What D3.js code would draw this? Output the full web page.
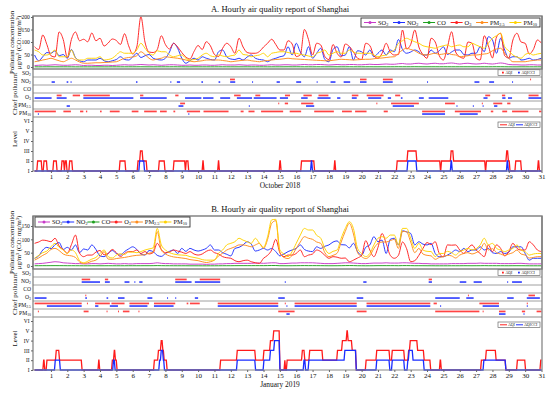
<!DOCTYPE html>
<html>
<head>
<meta charset="utf-8">
<script src="https://cdn.jsdelivr.net/npm/d3@7"></script>
<style>
  body { margin: 0; background: #fff; }
  text { font-family: "Liberation Serif", "Times New Roman", serif; fill: #111; }
</style>
</head>
<body>
<svg id="chart" width="550" height="393"></svg>
<script>
// ---- data (one sample every 6 hours) ----
var pollutants = ["SO2", "NO2", "CO", "O3", "PM2.5", "PM10"];
var pollutantParts = [["SO", "2"], ["NO", "2"], ["CO", ""], ["O", "3"], ["PM", "2.5"], ["PM", "10"]];
var dayTicks = [1, 2, 3, 4, 5, 6, 7, 8, 9, 10, 11, 12, 13, 14, 15, 16, 17, 18, 19, 20, 21, 22, 23, 24, 25, 26, 27, 28, 29, 30, 31];
var levelLabels = ["I", "II", "III", "IV", "V", "VI"];
var sampleHours = 6;

var octSO2 = [6,7,8,7, 8,9,8,7, 7,8,9,8, 6,7,7,6, 6,7,7,6, 7,8,9,8, 8,9,10,9, 8,9,8,7, 8,9,9,8, 7,7,8,7,
  7,8,8,7, 7,8,9,8, 8,8,9,8, 7,8,8,7, 7,8,9,8, 8,9,9,8, 8,9,10,9, 9,10,10,9, 8,9,10,9, 9,10,10,9,
  9,10,11,10, 10,11,12,11, 11,13,14,12, 12,14,15,13, 12,14,15,13, 13,15,16,14, 12,14,15,13, 12,13,15,13,
  12,14,16,14, 10,9,9,8, 8,9,9,8, 8];
var octNO2 = [48,25,41,58, 55,65,45,50, 35,70,38,25, 21,28,28,28, 35,25,21,25, 30,41,30,28, 40,55,38,45,
  50,35,30,28, 35,60,95,75, 35,15,25,35, 28,41,35,30, 28,61,68,41, 32,30,35,28, 40,48,35,30, 28,21,30,35,
  41,45,81,48, 95,60,41,81, 35,55,75,30, 21,70,81,45, 48,81,28,65, 61,48,68,41, 55,68,48,68, 61,110,70,55,
  60,68,61,48, 48,68,55,65, 81,50,60,68, 68,50,48,55, 55,81,61,121, 108,55,115,68, 35,41,41,28, 30,35,28,30, 35];
var octCO = [0.7,0.6,0.7,0.8, 0.8,0.7,0.7,0.8, 0.7,0.7,0.6,0.6, 0.6,0.6,0.6,0.6, 0.6,0.6,0.6,0.7, 0.7,0.7,0.7,0.8,
  0.8,0.8,0.9,0.8, 0.7,0.7,0.7,0.8, 0.8,0.8,0.9,0.8, 0.7,0.6,0.6,0.7, 0.7,0.7,0.7,0.7, 0.7,0.8,0.8,0.7,
  0.7,0.7,0.7,0.7, 0.7,0.7,0.7,0.7, 0.7,0.6,0.7,0.7, 0.7,0.8,0.9,0.8, 0.9,0.8,0.7,0.8, 0.7,0.8,0.8,0.7,
  0.7,0.8,0.8,0.8, 0.8,0.9,0.8,0.8, 0.8,0.8,0.9,0.8, 0.8,0.9,0.8,0.9, 0.9,1.1,1.0,0.9, 1.0,1.1,1.0,0.9,
  0.9,1.0,1.0,0.9, 1.0,1.0,0.9,0.9, 0.9,0.9,0.9,0.9, 0.9,1.0,1.0,0.9, 1.0,1.1,1.1,0.9, 0.7,0.6,0.6,0.7,
  0.7,0.7,0.7,0.7, 0.7];
var octO3 = [81,70,128,90, 45,40,140,110, 38,110,140,105, 111,101,136,105, 115,84,96,112, 106,90,133,85,
  52,80,201,100, 60,58,70,125, 90,72,95,80, 58,40,32,62, 86,70,101,85, 50,42,75,95, 81,55,115,80,
  58,55,55,62, 80,95,111,90, 68,68,105,92, 42,48,150,110, 48,95,88,42, 30,90,55,40, 92,82,60,35,
  30,95,86,45, 35,55,95,60, 48,50,148,72, 90,148,80,50, 35,115,100,45, 28,80,141,60, 41,35,100,95,
  35,28,125,85, 36,120,135,45, 36,108,135,100, 95,52,70,108, 95];
var octPM25 = [21,24,28,31, 35,30,25,21, 28,35,28,20, 15,15,16,17, 17,18,19,20, 21,28,35,38, 40,45,61,50,
  35,28,32,35, 41,39,37,35, 32,28,24,21, 23,25,28,28, 28,28,26,24, 21,23,25,27, 28,25,23,21, 24,26,28,30,
  31,33,35,33, 32,31,30,29, 28,27,26,25, 25,27,29,31, 30,29,28,29, 30,31,31,33, 35,36,38,40, 41,55,68,75,
  70,65,55,50, 48,52,55,50, 52,55,50,48, 41,43,45,48, 48,50,52,55, 65,72,75,55, 35,21,21,21, 21,24,26,28, 28];
var octPM10 = [68,61,48,48, 55,68,41,41, 41,68,35,28, 28,35,35,35, 41,28,30,35, 48,61,55,55, 55,68,95,75,
  55,48,65,61, 61,48,41,45, 48,35,28,30, 35,48,55,45, 41,48,44,41, 45,48,68,50, 48,41,45,48, 55,41,55,58,
  61,61,58,55, 55,50,48,44, 41,55,60,68, 48,55,61,55, 55,68,60,55, 55,55,55,48, 41,45,48,60, 68,95,105,115,
  108,101,95,85, 81,78,75,81, 85,88,81,85, 88,81,81,95, 88,81,75,95, 115,125,135,81, 65,48,40,35, 50,55,48,52, 55];

var janSO2 = [8,9,10,12, 14,16,15,12, 11,10,9,9, 8,8,9,9, 8,9,10,9, 8,8,9,8, 8,9,9,9, 9,10,12,10, 9,9,8,8,
  8,8,7,7, 7,7,6,7, 7,8,8,9, 9,10,10,10, 10,10,11,11, 10,11,12,12, 9,9,10,11, 11,12,12,12, 12,11,10,9,
  9,9,10,11, 12,12,11,10, 9,9,10,11, 11,11,12,11, 11,11,12,12, 11,10,10,9, 9,8,8,8, 8,8,9,9, 9,9,10,10,
  10,11,10,10, 10,10,9,9, 9,9,10,10, 9,8,8,8, 8];
var janNO2 = [29,38,60,70, 65,80,88,62, 70,60,79,50, 64,60,79,62, 38,35,47,58, 47,41,54,64, 72,62,45,41,
  58,54,40,36, 47,55,60,47, 66,55,66,60, 56,60,66,79, 60,60,50,44, 38,66,70,79, 91,82,56,60, 66,60,66,54,
  38,45,54,60, 66,79,62,56, 54,72,66,74, 79,90,94,80, 79,68,85,54, 40,70,79,110, 91,97,47,100, 104,79,132,128,
  122,79,91,82, 79,85,47,35, 35,41,50,60, 54,66,54,60, 60,72,60,66, 50,47,54,47, 52,72,72,72, 47,22,29,29, 29];
var janCO = [1.0,1.1,1.2,1.2, 1.3,1.4,1.3,1.2, 1.1,1.1,1.0,0.9, 0.8,0.8,0.9,0.9, 0.9,0.9,1.0,0.9, 0.9,0.9,0.9,1.0,
  1.0,1.0,1.0,1.1, 1.1,1.2,1.5,1.2, 1.0,1.0,0.9,0.9, 0.9,0.9,0.8,0.8, 0.8,0.7,0.7,0.8, 0.8,0.9,1.0,1.1,
  1.1,1.2,1.3,1.3, 1.3,1.3,1.4,1.4, 1.3,1.5,1.8,1.8, 1.0,0.9,0.9,1.0, 1.2,1.4,1.5,1.4, 1.4,1.3,1.2,1.0,
  0.9,0.9,1.0,1.2, 1.5,1.7,1.5,1.0, 0.9,0.8,0.9,1.1, 1.3,1.3,1.3,1.3, 1.3,1.1,1.5,1.5, 1.3,1.0,1.1,1.0,
  0.9,0.9,0.8,0.8, 0.8,0.8,0.9,0.9, 0.9,1.0,1.0,0.9, 1.0,1.1,1.3,1.1, 1.1,1.0,1.0,0.9, 0.9,1.0,1.1,1.0,
  0.9,0.8,0.8,0.8, 0.8];
var janO3 = [85,90,97,95, 91,104,75,62, 48,80,116,48, 35,41,41,52, 58,42,47,62, 50,35,47,54, 54,60,47,54,
  45,50,85,62, 50,52,60,56, 52,47,54,45, 41,45,55,60, 50,45,35,31, 29,20,16,20, 22,16,12,10, 29,40,60,100,
  50,35,41,41, 47,60,35,41, 45,60,54,40, 29,35,33,29, 30,16,22,30, 40,95,60,35, 70,122,85,40, 29,40,90,65,
  16,20,40,66, 88,80,91,47, 35,79,78,79, 60,47,66,79, 60,47,35,79, 54,79,66,38, 54,85,66,60, 60,91,79,60, 54];
var janPM25 = [22,30,40,48, 62,66,58,45, 40,38,32,15, 10,12,18,22, 35,54,26,25, 28,30,32,35, 38,40,41,43,
  48,52,129,60, 45,38,34,32, 30,28,24,22, 20,16,13,16, 22,38,48,60, 66,72,79,79, 76,72,79,85, 66,100,160,170,
  50,32,28,40, 66,90,110,104, 100,90,85,50, 35,40,48,90, 130,160,120,50, 35,28,38,66, 85,90,90,95, 100,66,130,128,
  90,50,66,45, 40,38,25,32, 35,40,38,30, 41,47,50,45, 50,60,85,60, 65,50,45,40, 45,50,60,45, 41,30,32,35, 35];
var janPM10 = [29,40,50,56, 72,85,70,60, 47,60,50,20, 12,18,26,32, 47,60,35,30, 41,46,43,52, 52,50,54,60,
  64,68,141,79, 60,50,45,42, 41,40,35,32, 29,24,22,22, 22,48,60,79, 85,91,104,97, 91,85,104,85, 70,110,173,175,
  60,45,35,54, 85,116,141,135, 135,115,104,66, 47,55,60,104, 141,166,140,66, 47,35,47,79, 104,110,104,116,
  116,79,141,141, 104,66,85,60, 55,54,35,47, 47,55,50,41, 54,60,66,60, 65,79,104,79, 85,66,60,54, 60,66,79,60,
  54,41,45,47, 47];

// chief pollutant, [pollutant, start day, end day]
var octChiefAQI = [
  ["NO2",11.95,12.25], ["NO2",19.9,20.3], ["NO2",21.3,21.9], ["NO2",30.3,30.36],
  ["O3",1.35,1.65], ["O3",2.33,2.78], ["O3",2.98,4.6], ["O3",6.45,6.65], ["O3",8.6,8.8], ["O3",12.2,12.6],
  ["O3",13.5,13.8], ["O3",15.31,15.62], ["O3",16.44,16.95], ["O3",17.36,17.97], ["O3",19.4,19.8],
  ["O3",20.31,21.34], ["O3",22.05,22.36], ["O3",27.56,27.86], ["O3",28.58,28.78], ["O3",30.21,30.82],
  ["PM2.5",8.9,9.2], ["PM2.5",14.9,14.96], ["PM2.5",15.3,15.5], ["PM2.5",16.3,17.05], ["PM2.5",20.9,20.96],
  ["PM2.5",21.8,23.5], ["PM2.5",25.1,25.7], ["PM2.5",27.35,27.41], ["PM2.5",28.05,28.6], ["PM2.5",28.9,29.1],
  ["PM10",0,1.3], ["PM10",1.76,2.22], ["PM10",2.78,2.98], ["PM10",3.14,3.22], ["PM10",4.0,4.1], ["PM10",4.6,5.2],
  ["PM10",5.94,6.35], ["PM10",6.7,7.47], ["PM10",7.67,8.08], ["PM10",8.49,8.6], ["PM10",9.31,10.12],
  ["PM10",10.33,11.86], ["PM10",12.6,12.78], ["PM10",13.08,13.45], ["PM10",13.85,15.2], ["PM10",15.6,16.3],
  ["PM10",17.1,18.3], ["PM10",18.8,19.4], ["PM10",19.6,20.3], ["PM10",21.35,21.6], ["PM10",23.7,25.1],
  ["PM10",25.7,27.3], ["PM10",27.9,28.05], ["PM10",28.6,28.9], ["PM10",29.2,30.2], ["PM10",30.85,31]
];
var octChiefCCI = [
  ["NO2",1.04,1.24], ["NO2",1.96,2.06], ["NO2",2.2,2.25], ["NO2",6.2,6.29], ["NO2",8.3,8.35], ["NO2",8.7,8.9],
  ["NO2",10.2,10.3], ["NO2",11.25,11.35], ["NO2",11.96,12.27], ["NO2",13.3,13.35], ["NO2",14.8,15.0],
  ["NO2",16.0,16.3], ["NO2",17.25,17.3], ["NO2",18.1,18.4], ["NO2",18.9,19.3], ["NO2",19.9,20.3],
  ["NO2",21.3,21.9], ["NO2",24.0,24.05], ["NO2",26.9,27.2], ["NO2",27.8,28.1], ["NO2",29.2,29.25],
  ["O3",0,1.04], ["O3",1.35,1.96], ["O3",2.98,6.04], ["O3",6.45,8.08], ["O3",9.2,10.2], ["O3",10.3,10.94],
  ["O3",11.35,11.96], ["O3",12.37,13.3], ["O3",13.4,14.8], ["O3",15.0,15.5], ["O3",16.3,16.7],
  ["O3",17.3,18.1], ["O3",18.5,18.7], ["O3",19.4,19.7], ["O3",20.4,21.2], ["O3",21.6,21.8], ["O3",22.4,22.5],
  ["O3",23.5,23.8], ["O3",24.1,25.3], ["O3",27.45,27.7], ["O3",28.6,28.8], ["O3",28.95,29.2], ["O3",30.2,31]
  , ["PM2.5",1.96,2.16], ["PM2.5",8.8,9.1], ["PM2.5",13.1,13.15], ["PM2.5",16.6,17.1], ["PM2.5",21.9,23.2],
  ["PM2.5",25.8,25.85], ["PM2.5",26.8,26.85], ["PM2.5",27.4,27.45], ["PM2.5",28.1,28.3],
  ["PM10",0.2,0.26], ["PM10",9.4,9.46], ["PM10",23.7,25.1], ["PM10",26.0,27.1]
];
var janChiefAQI = [
  ["NO2",2.88,3.4], ["NO2",4.3,4.5], ["NO2",8.6,9.3], ["NO2",10.1,11.35], ["NO2",24.1,24.3],
  ["O3",3.1,3.16], ["O3",26.5,26.56], ["O3",30.2,30.6],
  ["PM2.5",0,2.88], ["PM2.5",3.2,3.26], ["PM2.5",3.7,4.6], ["PM2.5",4.7,5.5], ["PM2.5",5.8,7.0], ["PM2.5",7.3,8.6],
  ["PM2.5",9.3,9.4], ["PM2.5",9.5,10.1], ["PM2.5",11.2,14.9], ["PM2.5",15.3,15.36], ["PM2.5",15.9,19.7],
  ["PM2.5",20.3,24.2], ["PM2.5",24.4,24.6], ["PM2.5",27.2,28.4], ["PM2.5",30.1,30.16],
  ["PM10",0.2,0.26], ["PM10",3.0,3.3], ["PM10",4.4,4.46], ["PM10",5.1,5.16], ["PM10",5.4,5.8], ["PM10",6.35,6.41],
  ["PM10",14.9,15.9], ["PM10",19.7,20.3], ["PM10",24.5,27.2], ["PM10",27.4,27.46], ["PM10",28.4,28.8],
  ["PM10",29.8,30.0], ["PM10",30.7,31]
];
var janChiefCCI = [
  ["NO2",2.88,4.0], ["NO2",4.3,4.6], ["NO2",5.5,5.8], ["NO2",6.1,6.16], ["NO2",6.4,6.6], ["NO2",8.6,9.6],
  ["NO2",9.8,11.35], ["NO2",15.3,15.36], ["NO2",20.1,20.3], ["NO2",24.1,24.3], ["NO2",26.0,26.4],
  ["NO2",26.85,27.35], ["NO2",28.9,28.96], ["NO2",29.2,29.8],
  ["O3",0,0.73], ["O3",3.1,3.2], ["O3",4.4,4.5], ["O3",5.1,5.5], ["O3",6.9,7.2], ["O3",8.1,8.16], ["O3",8.6,8.66],
  ["O3",9.8,10.0], ["O3",14.9,15.3], ["O3",19.7,20.1], ["O3",24.5,26.0], ["O3",26.4,26.85], ["O3",28.9,29.3],
  ["O3",30.1,30.9],
  ["PM2.5",0.75,2.88], ["PM2.5",3.7,3.9], ["PM2.5",4.6,5.1], ["PM2.5",5.8,6.9], ["PM2.5",7.3,8.5],
  ["PM2.5",11.2,14.9], ["PM2.5",15.4,15.46], ["PM2.5",15.9,19.7], ["PM2.5",20.3,24.2], ["PM2.5",24.8,24.86],
  ["PM2.5",27.4,28.4], ["PM2.5",30.1,30.16],
  ["PM10",15.4,15.6], ["PM10",28.4,28.8], ["PM10",29.9,29.96]
];

// pollution level, [day from which the level holds, level]
var octLevelAQI = [[0,1],[0.16,2],[0.43,1],[0.55,2],[0.75,1],[1.14,2],[1.35,1],[1.65,2],[1.8,1],[1.85,2],[1.96,1],
  [2.12,2],[2.3,1],[5.2,2],[5.55,1],[6.3,2],[6.45,3],[6.6,2],[6.85,1],[7.6,2],[7.95,1],[8.5,2],[9.2,1],[9.25,2],
  [9.4,1],[10.27,2],[10.33,1],[11.22,2],[11.28,1],[14.98,2],[15.05,1],[16.3,2],[17.1,1],[18.33,2],[18.39,1],
  [22.15,2],[22.8,3],[23.35,2],[24.8,1],[24.86,2],[25.45,3],[25.6,2],[27.55,1],[27.61,2],[28.85,3],[28.95,2],
  [29.05,1],[29.4,2],[29.75,1],[30.78,2],[30.85,1],[31,1]];
var octLevelCCI = [[0,1],[6.4,2],[6.7,1],[16.9,2],[16.97,1],[22.8,2],[23.35,1],[25.45,2],[25.52,1],
  [28.88,2],[28.95,1],[31,1]];
var janLevelAQI = [[0,1],[0.53,2],[0.6,1],[0.73,2],[1.3,3],[1.5,2],[2.88,1],[3.9,2],[3.96,1],[4.73,2],[4.85,3],
  [4.92,2],[5.02,1],[7.3,2],[7.55,3],[7.72,4],[7.82,3],[7.9,2],[8.08,1],[11.35,2],[12.37,3],[13.49,2],[14.0,3],
  [14.4,4],[14.6,5],[14.98,1],[15.28,2],[15.33,1],[15.42,2],[16.35,3],[16.5,2],[16.8,3],[17.6,2],[18.5,3],
  [18.8,4],[19.08,5],[19.15,4],[19.4,3],[19.65,1],[20.25,2],[20.9,3],[21.7,2],[21.85,3],[22.6,2],[22.85,3],
  [22.95,4],[23.4,3],[23.8,2],[24.2,1],[24.78,2],[24.85,1],[27.3,2],[27.6,3],[28.2,2],[28.8,1],[29.5,2],
  [30.0,1],[30.93,2],[31,2]];
var janLevelCCI = [[0,1],[1.24,2],[1.55,1],[4.8,2],[4.9,1],[7.62,2],[7.72,3],[7.85,2],[7.92,1],[12.37,2],
  [13.49,1],[14.0,2],[14.4,3],[14.65,4],[14.98,1],[16.45,2],[16.55,1],[16.75,2],[18.95,3],[19.65,1],[20.9,2],
  [21.7,1],[21.85,2],[22.6,1],[22.8,2],[22.88,3],[23.12,2],[23.8,1],[27.45,2],[28.8,1],[31,1]];

var colors = ["#c83ac8", "#2030ff", "#1ea01e", "#ff2020", "#ff8c1c", "#ffd200"];

// ---- drawing ----
var svg = d3.select("#chart");
var frameL = 33, frameR = 542;
var x = d3.scaleLinear().domain([0, 31]).range([34.6, 541.5]);

function addLabel(sel, parts, size) {
  sel.append("tspan").text(parts[0]);
  if (parts[1]) sel.append("tspan").attr("font-size", size * 0.68).attr("dy", size * 0.22).text(parts[1]);
}

function levelPoints(steps) {
  var pts = [[steps[0][0], steps[0][1]]];
  for (var i = 1; i < steps.length; i++) {
    var prev = steps[i - 1][1];
    if (i === steps.length - 1) { pts.push([steps[i][0], prev]); break; }
    pts.push([steps[i][0] - 0.025, prev]);
    pts.push([steps[i][0] + 0.025, steps[i][1]]);
  }
  return pts;
}

function drawPanel(p, idx) {
  var g = svg.append("g");
  var yC = d3.scaleLinear().domain(p.yDomain).range([p.c, p.t]);
  var yL = d3.scaleLinear().domain([1, 6]).range([p.b, p.l + 4]);
  var rows = d3.scaleBand().domain(pollutants).range([p.c, p.l]);

  g.append("text").attr("x", 280).attr("y", p.t - 4).attr("text-anchor", "middle")
    .attr("font-size", 8.6).text(p.title);

  // concentration lines
  g.append("clipPath").attr("id", "clip" + idx).append("rect")
    .attr("x", frameL).attr("y", p.t).attr("width", frameR - frameL).attr("height", p.c - p.t);
  var line = d3.line()
    .x(function(d, i) { return x(i * sampleHours / 24); })
    .y(function(d) { return yC(d); })
    .curve(d3.curveMonotoneX);
  var lines = g.append("g").attr("clip-path", "url(#clip" + idx + ")");
  p.series.forEach(function(s, k) {
    lines.append("path").datum(s).attr("d", line).attr("fill", "none")
      .attr("stroke", colors[k]).attr("stroke-width", 0.95);
  });

  // chief pollutant rows
  g.selectAll(".aqi").data(p.chiefAQI).join("rect").attr("class", "aqi")
    .attr("x", function(d) { return x(d[1]); })
    .attr("width", function(d) { return Math.max(1, x(d[2]) - x(d[1])); })
    .attr("y", function(d) { return rows(d[0]) + rows.bandwidth() / 2 - 2.4; })
    .attr("height", 1.7).attr("fill", "#ff4444");
  g.selectAll(".cci").data(p.chiefCCI).join("rect").attr("class", "cci")
    .attr("x", function(d) { return x(d[1]); })
    .attr("width", function(d) { return Math.max(1, x(d[2]) - x(d[1])); })
    .attr("y", function(d) { return rows(d[0]) + rows.bandwidth() / 2 + 0.2; })
    .attr("height", 1.7).attr("fill", "#3a48ff");

  pollutants.forEach(function(pn, k) {
    var t = g.append("text").attr("x", 31).attr("y", rows(pn) + rows.bandwidth() / 2 + 1.6)
      .attr("text-anchor", "end").attr("font-size", 5.6);
    addLabel(t, pollutantParts[k], 5.6);
    if (k > 0) {
      g.append("line").attr("x1", frameL).attr("x2", frameR).attr("y1", rows(pn)).attr("y2", rows(pn))
        .attr("stroke", "#a0a0a0").attr("stroke-width", 1);
    }
  });

  // level lines
  var lline = d3.line().x(function(d) { return x(d[0]); }).y(function(d) { return yL(d[1]); });
  g.append("path").datum(levelPoints(p.levelAQI)).attr("d", lline).attr("fill", "none")
    .attr("stroke", "#ff1a1a").attr("stroke-width", 1.3);
  g.append("path").datum(levelPoints(p.levelCCI)).attr("d", lline).attr("fill", "none")
    .attr("stroke", "#1a2cff").attr("stroke-width", 1.3);

  // frames
  g.append("rect").attr("x", frameL).attr("y", p.t).attr("width", frameR - frameL).attr("height", p.c - p.t)
    .attr("fill", "none").attr("stroke", "#7c7c7c").attr("stroke-width", 1.4);
  g.append("line").attr("x1", frameL).attr("x2", frameR).attr("y1", p.l).attr("y2", p.l)
    .attr("stroke", "#8c8c8c").attr("stroke-width", 1.2);
  g.append("line").attr("x1", frameL).attr("x2", frameL).attr("y1", p.t).attr("y2", p.b)
    .attr("stroke", "#7c7c7c").attr("stroke-width", 1.2);
  g.append("line").attr("x1", frameR).attr("x2", frameR).attr("y1", p.t).attr("y2", p.b)
    .attr("stroke", "#7c7c7c").attr("stroke-width", 1.2);
  g.append("line").attr("x1", frameL).attr("x2", frameR).attr("y1", p.b).attr("y2", p.b)
    .attr("stroke", "#888").attr("stroke-width", 1);

  // axes
  var ay = g.append("g").attr("transform", "translate(" + frameL + ",0)")
    .call(d3.axisLeft(yC).tickValues(p.yTicks).tickSize(2).tickPadding(1.2));
  var al = g.append("g").attr("transform", "translate(" + frameL + ",0)")
    .call(d3.axisLeft(yL).tickValues([1, 2, 3, 4, 5, 6]).tickSize(2).tickPadding(1.5)
      .tickFormat(function(d) { return levelLabels[d - 1]; }));
  var ax = g.append("g").attr("transform", "translate(0," + p.b + ")")
    .call(d3.axisBottom(x).tickValues(dayTicks).tickSize(2).tickPadding(1.5));
  [ay, al, ax].forEach(function(a) {
    a.select(".domain").remove();
    a.selectAll("line").attr("stroke", "#666");
    a.selectAll("text").attr("font-family", "Liberation Serif").attr("fill", "#111");
  });
  ay.selectAll("text").attr("font-size", 5.6);
  al.selectAll("text").attr("font-size", 5.4);
  ax.selectAll("text").attr("font-size", 7);

  g.append("text").attr("x", 280).attr("y", p.b + 16.5).attr("text-anchor", "middle")
    .attr("font-size", 7.4).text(p.month);

  // axis titles
  var cy = (p.t + p.c) / 2;
  g.append("text").attr("transform", "translate(14," + cy + ") rotate(-90)").attr("text-anchor", "middle")
    .attr("font-size", 6.8).text("Pollutant concentration");
  g.append("text").attr("transform", "translate(21," + cy + ") rotate(-90)").attr("text-anchor", "middle")
    .attr("font-size", 6.8).text("\u03bcg/m\u00b3 (CO: mg/m\u00b3)");
  g.append("text").attr("transform", "translate(17," + ((p.c + p.l) / 2 + 1) + ") rotate(-90)")
    .attr("text-anchor", "middle").attr("font-size", 7).text("Chief pollutant");
  g.append("text").attr("transform", "translate(17," + ((p.l + p.b) / 2 - 5) + ") rotate(-90)")
    .attr("text-anchor", "middle").attr("font-size", 7).text("Level");

  // pollutant legend
  var lg = g.append("g");
  var box = lg.append("rect").attr("fill", "#fff").attr("stroke", "#333").attr("stroke-width", 0.9);
  var items = [], cx = p.legend.x + 3, ly = p.legend.y + p.legend.h / 2;
  pollutants.forEach(function(pn, k) {
    var it = lg.append("g");
    it.append("line").attr("x1", 0).attr("x2", 12).attr("y1", 0).attr("y2", 0)
      .attr("stroke", colors[k]).attr("stroke-width", 1);
    it.append("circle").attr("cx", 6).attr("cy", 0).attr("r", 1.5).attr("fill", colors[k]);
    var t = it.append("text").attr("x", 14).attr("y", 2).attr("font-size", 6.4);
    addLabel(t, pollutantParts[k], 6.4);
    items.push({ g: it, w: 14 + t.node().getComputedTextLength() });
  });
  var used = d3.sum(items, function(d) { return d.w; });
  var gap = (p.legend.w - 6 - used) / (items.length - 1);
  items.forEach(function(d) {
    d.g.attr("transform", "translate(" + cx + "," + ly + ")");
    cx += d.w + gap;
  });
  box.attr("x", p.legend.x).attr("y", p.legend.y).attr("width", p.legend.w).attr("height", p.legend.h);

  // small legends (chief pollutant markers and level lines)
  function smallLegend(y0, useLines) {
    var sg = g.append("g");
    sg.append("rect").attr("x", 498).attr("y", y0).attr("width", 42).attr("height", 5.6)
      .attr("fill", "#fff").attr("stroke", "#555").attr("stroke-width", 0.6);
    var ym = y0 + 2.8;
    [["AQI", "#ff2020", 500], ["AQICCI", "#2030ff", 516]].forEach(function(e) {
      if (useLines) {
        sg.append("line").attr("x1", e[2]).attr("x2", e[2] + 7).attr("y1", ym).attr("y2", ym)
          .attr("stroke", e[1]).attr("stroke-width", 1);
      } else {
        sg.append("rect").attr("x", e[2] + 2).attr("y", ym - 0.9).attr("width", 1.8).attr("height", 1.8)
          .attr("fill", e[1]);
      }
      sg.append("text").attr("x", e[2] + (useLines ? 8 : 5.5)).attr("y", ym + 1.4).attr("font-size", 3.9)
        .text(e[0]);
    });
  }
  smallLegend(p.c + 0.8, false);
  smallLegend(p.l + 5, true);
}

var panels = [
  { title: "A. Hourly air quality report of Shanghai", month: "October 2018",
    t: 16, c: 69, l: 117, b: 171, yDomain: [-8, 204], yTicks: [0, 50, 100, 150, 200],
    series: [octSO2, octNO2, octCO, octO3, octPM25, octPM10],
    chiefAQI: octChiefAQI, chiefCCI: octChiefCCI, levelAQI: octLevelAQI, levelCCI: octLevelCCI,
    legend: { x: 361, y: 18, w: 179, h: 9 } },
  { title: "B. Hourly air quality report of Shanghai", month: "January 2019",
    t: 216, c: 269, l: 317, b: 370, yDomain: [-11.25, 187.5], yTicks: [0, 50, 100, 150],
    series: [janSO2, janNO2, janCO, janO3, janPM25, janPM10],
    chiefAQI: janChiefAQI, chiefCCI: janChiefCCI, levelAQI: janLevelAQI, levelCCI: janLevelCCI,
    legend: { x: 35, y: 217, w: 155, h: 10 } }
];
panels.forEach(drawPanel);
</script>
</body>
</html>
